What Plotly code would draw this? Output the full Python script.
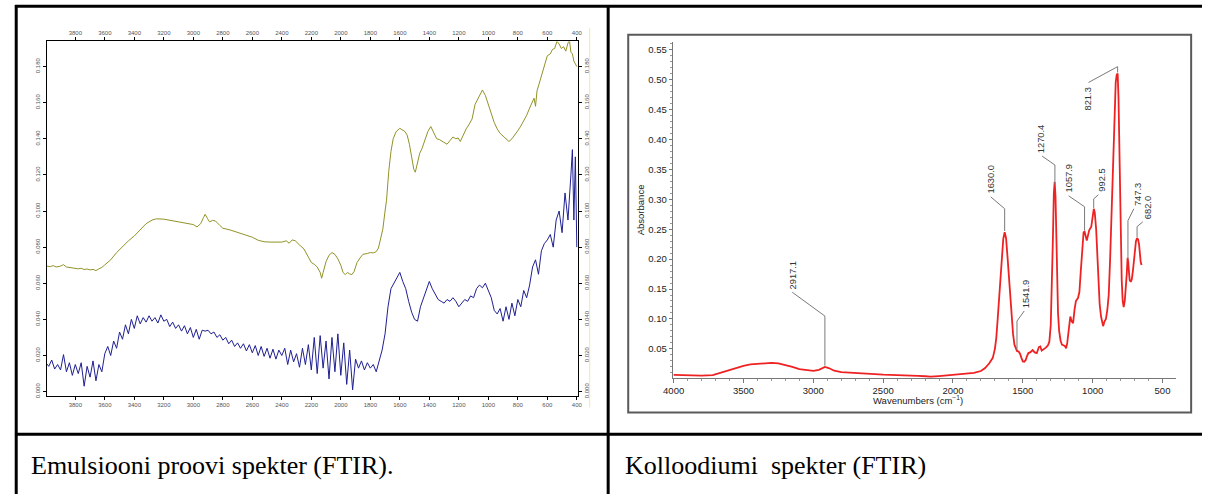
import numpy as np
import plotly.graph_objects as go

# ---------------- data ----------------
# Left panel: emulsion sample FTIR (two traces)
olive_wn = [4000, 3970, 3950, 3930, 3900, 3880, 3860, 3840, 3820, 3800, 3780, 3760, 3740, 3720, 3700,
            3680, 3660, 3640, 3620, 3600, 3560, 3520, 3480, 3440, 3400, 3360, 3320, 3280, 3250, 3200,
            3150, 3100, 3050, 3000, 2975, 2950, 2930, 2920, 2905, 2890, 2870, 2850, 2820, 2800, 2750,
            2700, 2650, 2600, 2560, 2520, 2480, 2440, 2400, 2370, 2350, 2330, 2310, 2280, 2250, 2220,
            2200, 2180, 2160, 2140, 2130, 2120, 2100, 2080, 2060, 2040, 2020, 2000, 1985, 1970, 1955,
            1940, 1925, 1910, 1890, 1870, 1850, 1820, 1800, 1780, 1760, 1745, 1730, 1715, 1700, 1690,
            1675, 1660, 1645, 1625, 1600, 1580, 1565, 1550, 1535, 1520, 1505, 1495, 1480, 1465, 1450,
            1430, 1410, 1390, 1370, 1350, 1330, 1300, 1280, 1260, 1240, 1220, 1205, 1190, 1170, 1150,
            1130, 1110, 1090, 1070, 1050, 1040, 1020, 1000, 980, 960, 940, 920, 900, 880, 860,
            840, 820, 800, 780, 760, 740, 720, 700, 690, 680, 670, 650, 630, 610, 600,
            580, 565, 550, 535, 520, 505, 490, 475, 460, 450, 440, 430, 420, 410, 400]
olive_val = [0.0696, 0.0692, 0.0698, 0.0690, 0.0695, 0.0703, 0.0690, 0.0688, 0.0686, 0.0684, 0.0680, 0.0683, 0.0676, 0.0679, 0.0674,
             0.0677, 0.0670, 0.0680, 0.0688, 0.0702, 0.0730, 0.0770, 0.0805, 0.0835, 0.0862, 0.0895, 0.0930, 0.0950, 0.0957, 0.0955,
             0.0948, 0.0940, 0.0933, 0.0925, 0.0912, 0.0930, 0.0965, 0.0982, 0.0960, 0.0940, 0.0948, 0.0945, 0.0920, 0.0905, 0.0895,
             0.0882, 0.0870, 0.0855, 0.0838, 0.0830, 0.0828, 0.0830, 0.0828, 0.0835, 0.0822, 0.0840, 0.0836, 0.0812, 0.0790, 0.0745,
             0.0715, 0.0705, 0.0690, 0.0660, 0.0628, 0.0660, 0.0720, 0.0755, 0.0770, 0.0760, 0.0735, 0.0700, 0.0660, 0.0648, 0.0660,
             0.0652, 0.0648, 0.0665, 0.0715, 0.0740, 0.0760, 0.0765, 0.0770, 0.0768, 0.0775, 0.0795, 0.0840, 0.0900, 0.1000, 0.1060,
             0.1220, 0.1330, 0.1400, 0.1440, 0.1458, 0.1450, 0.1440, 0.1420, 0.1370, 0.1300, 0.1230, 0.1215, 0.1260, 0.1320, 0.1345,
             0.1390, 0.1440, 0.1468, 0.1430, 0.1400, 0.1395, 0.1380, 0.1370, 0.1390, 0.1410, 0.1400, 0.1405, 0.1385, 0.1420, 0.1455,
             0.1480, 0.1510, 0.1590, 0.1620, 0.1655, 0.1670, 0.1640, 0.1590, 0.1540, 0.1490, 0.1455, 0.1430, 0.1415, 0.1400, 0.1385,
             0.1400, 0.1420, 0.1445, 0.1470, 0.1500, 0.1530, 0.1570, 0.1610, 0.1625, 0.1580, 0.1665, 0.1720, 0.1780, 0.1840, 0.1860,
             0.1870, 0.1895, 0.1900, 0.1940, 0.1925, 0.1900, 0.1910, 0.1885, 0.1930, 0.1945, 0.1880, 0.1870, 0.1830, 0.1810, 0.1800]

blue_wn = [4000, 3980, 3960, 3940, 3920, 3900, 3880, 3860, 3840, 3820, 3800, 3780, 3760, 3740, 3720,
           3700, 3680, 3660, 3640, 3620, 3600, 3580, 3560, 3540, 3520, 3500, 3480, 3460, 3440, 3420,
           3400, 3380, 3360, 3340, 3320, 3300, 3280, 3260, 3240, 3220, 3200, 3180, 3160, 3140, 3120,
           3100, 3080, 3060, 3040, 3020, 3000, 2980, 2960, 2940, 2920, 2900, 2880, 2860, 2840, 2820,
           2800, 2780, 2760, 2740, 2720, 2700, 2680, 2660, 2640, 2620, 2600, 2580, 2560, 2540, 2520,
           2500, 2480, 2460, 2440, 2420, 2400, 2380, 2360, 2340, 2320, 2300, 2280, 2260, 2240, 2220,
           2200, 2180, 2160, 2140, 2120, 2100, 2080, 2060, 2040, 2020, 2000, 1980, 1960, 1940, 1920,
           1900, 1880, 1860, 1840, 1820, 1800, 1780, 1760, 1740, 1720, 1700, 1680, 1660, 1640, 1620,
           1600, 1580, 1560, 1540, 1520, 1500, 1480, 1460, 1440, 1420, 1400, 1380, 1360, 1340, 1320,
           1300, 1280, 1260, 1240, 1220, 1200, 1180, 1160, 1140, 1120, 1100, 1080, 1060, 1040, 1020,
           1000, 980, 960, 940, 920, 900, 880, 860, 840, 820, 800, 780, 760, 740, 720,
           700, 680, 660, 640, 620, 600, 580, 560, 540, 520, 500, 480, 460, 440, 430,
           420, 410, 400]
blue_val = [0.0160, 0.0140, 0.0175, 0.0125, 0.0150, 0.0120, 0.0205, 0.0110, 0.0160, 0.0090, 0.0150, 0.0100, 0.0160, 0.0030, 0.0140,
            0.0080, 0.0170, 0.0060, 0.0150, 0.0110, 0.0210, 0.0250, 0.0200, 0.0280, 0.0240, 0.0330, 0.0290, 0.0370, 0.0320, 0.0400,
            0.0350, 0.0420, 0.0375, 0.0410, 0.0385, 0.0420, 0.0390, 0.0410, 0.0380, 0.0425, 0.0390, 0.0400, 0.0360, 0.0385, 0.0350,
            0.0370, 0.0335, 0.0365, 0.0320, 0.0355, 0.0300, 0.0345, 0.0290, 0.0340, 0.0335, 0.0340, 0.0320, 0.0330, 0.0300, 0.0315,
            0.0285, 0.0300, 0.0265, 0.0285, 0.0250, 0.0270, 0.0240, 0.0265, 0.0225, 0.0260, 0.0215, 0.0255, 0.0200, 0.0250, 0.0195,
            0.0240, 0.0185, 0.0235, 0.0180, 0.0230, 0.0200, 0.0240, 0.0150, 0.0230, 0.0165, 0.0210, 0.0135, 0.0240, 0.0150, 0.0260,
            0.0120, 0.0300, 0.0100, 0.0310, 0.0130, 0.0280, 0.0070, 0.0300, 0.0110, 0.0320, 0.0090, 0.0270, 0.0040, 0.0230, 0.0010,
            0.0180, 0.0130, 0.0170, 0.0120, 0.0160, 0.0130, 0.0150, 0.0110, 0.0170, 0.0230, 0.0320, 0.0470, 0.0570, 0.0600, 0.0630,
            0.0660, 0.0610, 0.0570, 0.0500, 0.0440, 0.0400, 0.0390, 0.0470, 0.0520, 0.0560, 0.0610, 0.0570, 0.0540, 0.0510, 0.0500,
            0.0490, 0.0510, 0.0500, 0.0520, 0.0500, 0.0470, 0.0490, 0.0510, 0.0500, 0.0530, 0.0520, 0.0570, 0.0590, 0.0575, 0.0600,
            0.0560, 0.0520, 0.0450, 0.0430, 0.0460, 0.0390, 0.0470, 0.0400, 0.0490, 0.0420, 0.0510, 0.0470, 0.0560, 0.0520, 0.0590,
            0.0690, 0.0730, 0.0650, 0.0780, 0.0820, 0.0840, 0.0870, 0.0800, 0.0950, 0.1000, 0.0880, 0.1100, 0.0950, 0.1200, 0.1340,
            0.0950, 0.1300, 0.0800]

# Right panel: collodion FTIR
red_wn = [4000, 3900, 3800, 3720, 3650, 3600, 3550, 3500, 3450, 3400, 3350, 3300, 3250, 3200, 3150,
          3100, 3050, 3000, 2960, 2930, 2917, 2890, 2850, 2800, 2750, 2650, 2500, 2400, 2300, 2250,
          2200, 2160, 2100, 2000, 1900, 1850, 1800, 1770, 1740, 1715, 1700, 1690, 1680, 1670, 1660,
          1650, 1640, 1630, 1620, 1610, 1600, 1590, 1580, 1570, 1560, 1550, 1542, 1530, 1520, 1510,
          1500, 1490, 1480, 1470, 1460, 1445, 1430, 1415, 1400, 1385, 1375, 1365, 1350, 1335, 1320,
          1310, 1300, 1292, 1285, 1278, 1272, 1266, 1260, 1254, 1248, 1240, 1230, 1220, 1210, 1200,
          1190, 1182, 1175, 1165, 1160, 1150, 1140, 1130, 1120, 1105, 1095, 1085, 1075, 1065, 1058,
          1050, 1042, 1035, 1025, 1010, 1000, 992, 985, 975, 965, 958, 950, 940, 930, 925,
          915, 905, 895, 885, 875, 865, 855, 845, 835, 828, 821, 815, 808, 800, 792,
          785, 778, 770, 762, 756, 750, 745, 740, 735, 728, 720, 712, 705, 698, 690,
          682, 675, 668, 662, 656, 650]
red_val = [0.0066, 0.0060, 0.0052, 0.0062, 0.0110, 0.0150, 0.0185, 0.0216, 0.0240, 0.0252, 0.0264, 0.0266, 0.0258, 0.0235, 0.0200,
           0.0160, 0.0140, 0.0132, 0.0150, 0.0185, 0.0199, 0.0180, 0.0135, 0.0110, 0.0100, 0.0090, 0.0070, 0.0066, 0.0062, 0.0050,
           0.0042, 0.0034, 0.0045, 0.0065, 0.0080, 0.0100, 0.0130, 0.0180, 0.0260, 0.0350, 0.0500, 0.0680, 0.1000, 0.1340, 0.1750,
           0.2100, 0.2340, 0.2450, 0.2350, 0.2050, 0.1700, 0.1350, 0.1050, 0.0750, 0.0570, 0.0490, 0.0465, 0.0455, 0.0420, 0.0350,
           0.0290, 0.0285, 0.0310, 0.0380, 0.0430, 0.0445, 0.0480, 0.0440, 0.0430, 0.0530, 0.0540, 0.0470, 0.0490, 0.0520, 0.0560,
           0.0620, 0.0900, 0.1500, 0.2300, 0.3100, 0.3290, 0.3050, 0.2400, 0.1600, 0.1100, 0.0800, 0.0640, 0.0570, 0.0560, 0.0550,
           0.0510, 0.0600, 0.0740, 0.0990, 0.1040, 0.0960, 0.0930, 0.1150, 0.1300, 0.1350, 0.1450, 0.1800, 0.2200, 0.2450, 0.2460,
           0.2380, 0.2310, 0.2380, 0.2480, 0.2540, 0.2700, 0.2840, 0.2780, 0.2500, 0.2000, 0.1500, 0.1250, 0.1040, 0.0900, 0.0880,
           0.0960, 0.1000, 0.1150, 0.1400, 0.2000, 0.2800, 0.3700, 0.4500, 0.4950, 0.5080, 0.5100, 0.4700, 0.3600, 0.2400, 0.1650,
           0.1300, 0.1200, 0.1300, 0.1500, 0.1750, 0.2020, 0.1950, 0.1780, 0.1650, 0.1620, 0.1660, 0.1800, 0.2000, 0.2180, 0.2300,
           0.2350, 0.2330, 0.2250, 0.2050, 0.1950, 0.1900]

left_xticks = [3800, 3600, 3400, 3200, 3000, 2800, 2600, 2400, 2200, 2000, 1800, 1600, 1400, 1200, 1000, 800, 600, 400]
left_yticks = [0.000, 0.020, 0.040, 0.060, 0.080, 0.100, 0.120, 0.140, 0.160, 0.180]
right_xticks = [4000, 3500, 3000, 2500, 2000, 1500, 1000, 500]
right_yticks = [0.05, 0.10, 0.15, 0.20, 0.25, 0.30, 0.35, 0.40, 0.45, 0.50, 0.55]

peak_labels = ["2917.1", "1630.0", "1541.9", "1270.4", "1057.9", "992.5", "821.3", "747.3", "682.0"]
peak_wn = [2917.1, 1630.0, 1541.9, 1270.4, 1057.9, 992.5, 821.3, 747.3, 682.0]

captions = ["Emulsiooni proovi spekter (FTIR).", "Kolloodiumi\u00a0 spekter (FTIR)"]

# ---------------- layout helpers (pixel positions) ----------------
W, H = 1207, 497


def fx(p):
    return p / W


def fy(p):
    return 1 - p / H


# leader-line geometry for peak labels (in data units of the right panel)
bend_val = [0.1048, 0.2842, 0.0965, 0.3573, 0.2875, 0.3007, 0.5217, 0.2643, 0.2543]
lead_wn = [3151, 1730, 1490, 1362, 1172, 959, 1030, 705, 641]
lead_val = [0.1447, 0.3041, 0.1133, 0.3722, 0.3058, 0.3075, 0.4952, 0.2842, 0.2623]
text_dx = [1, 0, 2, -1, 0, 4, 0, 4, 6]
text_below = [False, False, False, False, False, False, True, False, False]

fig = go.Figure()
fig.add_trace(go.Scatter(x=olive_wn, y=olive_val, mode="lines", xaxis="x", yaxis="y",
                         line=dict(color="#929228", width=1), hoverinfo="skip", showlegend=False))
fig.add_trace(go.Scatter(x=blue_wn, y=blue_val, mode="lines", xaxis="x", yaxis="y",
                         line=dict(color="#1f1f92", width=1), hoverinfo="skip", showlegend=False))
# transparent copy so the mirrored (top / right) axes of the left panel get drawn
fig.add_trace(go.Scatter(x=olive_wn, y=olive_val, mode="lines", xaxis="x2", yaxis="y2", opacity=0,
                         line=dict(color="#929228", width=1), hoverinfo="skip", showlegend=False))
fig.add_trace(go.Scatter(x=red_wn, y=red_val, mode="lines", xaxis="x3", yaxis="y3",
                         line=dict(color="#ee2222", width=1.8), hoverinfo="skip", showlegend=False))

small = dict(family="Liberation Sans, Arial, sans-serif", size=6, color="#555555")
left_x_common = dict(range=[3995, 393], tickvals=left_xticks, ticks="outside", ticklen=3,
                     tickcolor="black", showline=True, linecolor="black", linewidth=1,
                     showgrid=False, zeroline=False, tickfont=small)
left_y_common = dict(range=[-0.0022, 0.1939], tickvals=left_yticks, tickformat=".3f", tickangle=-90,
                     ticks="outside", ticklen=3, tickcolor="black", showline=True, linecolor="black",
                     linewidth=1, showgrid=False, zeroline=False, tickfont=small)

rfont = dict(family="Liberation Sans, Arial, sans-serif", size=9.5, color="#222222")

fig.update_layout(
    width=W, height=H, margin=dict(l=0, r=0, t=0, b=0),
    paper_bgcolor="white", plot_bgcolor="white", showlegend=False,
    xaxis=dict(domain=[fx(37), fx(575)], anchor="y", side="bottom", **left_x_common),
    xaxis2=dict(overlaying="x", anchor="y2", side="top", **left_x_common),
    yaxis=dict(domain=[fy(398), fy(41.7)], anchor="x", side="left", **left_y_common),
    yaxis2=dict(overlaying="y", anchor="x2", side="right", **left_y_common),
    xaxis3=dict(domain=[fx(671), fx(1181)], anchor="y3", range=[4007, 401], tickvals=right_xticks,
                ticks="outside", ticklen=4, tickcolor="#777777", showline=True, linecolor="#777777",
                linewidth=1, showgrid=False, zeroline=False, tickfont=rfont,
                minor=dict(ticks="outside", ticklen=2, dtick=100, tickcolor="#999999")),
    yaxis3=dict(domain=[fy(380), fy(42)], anchor="x3", range=[0.0018, 0.5633], tickvals=right_yticks,
                tickformat=".2f", ticks="outside", ticklen=3, tickcolor="#777777", showline=True,
                linecolor="#777777", linewidth=1, showgrid=False, zeroline=False, tickfont=rfont,
                minor=dict(ticks="outside", ticklen=2, dtick=0.01, tickcolor="#999999")),
)

shapes = []
# table grid
line_black = dict(color="black", width=3)
shapes.append(dict(type="line", xref="paper", yref="paper", x0=fx(5), x1=1, y0=fy(6.3), y1=fy(6.3), line=line_black))
shapes.append(dict(type="line", xref="paper", yref="paper", x0=fx(6.3), x1=fx(6.3), y0=fy(5), y1=0, line=line_black))
shapes.append(dict(type="line", xref="paper", yref="paper", x0=fx(605.7), x1=fx(605.7), y0=fy(5), y1=0, line=line_black))
shapes.append(dict(type="line", xref="paper", yref="paper", x0=fx(5), x1=1, y0=fy(437), y1=fy(437), line=line_black))
# faint beige edge line right of left chart
shapes.append(dict(type="line", xref="paper", yref="paper", x0=fx(587), x1=fx(587), y0=fy(28), y1=fy(410),
                   line=dict(color="#f3e4b6", width=1)))
# right chart frame
shapes.append(dict(type="rect", xref="paper", yref="paper", x0=fx(626), x1=fx(1196), y0=fy(415), y1=fy(35),
                   line=dict(color="#5a5a5a", width=2), layer="below"))

# peak leader lines
peak_y = np.interp(peak_wn, red_wn[::-1], red_val[::-1])
annotations = []
for lab, wn, yv, bv, lw, lv, dx, below in zip(peak_labels, peak_wn, peak_y, bend_val, lead_wn, lead_val,
                                             text_dx, text_below):
    shapes.append(dict(type="path", xref="x3", yref="y3",
                       path=f"M {wn},{yv + 0.002} L {wn},{bv} L {lw},{lv}",
                       line=dict(color="#7a7a7a", width=1)))
    annotations.append(dict(x=lw, y=lv, xref="x3", yref="y3", text=lab, showarrow=False, textangle=-90,
                            xanchor="center", yanchor="top" if below else "bottom",
                            xshift=dx, yshift=-3 if below else 1,
                            font=dict(family="Liberation Sans, Arial, sans-serif", size=9.3, color="#333333")))

# axis titles of right chart
annotations.append(dict(x=fx(638.5), y=fy(211), xref="paper", yref="paper", text="Absorbance", showarrow=False,
                        textangle=-90, xanchor="center", yanchor="middle", font=rfont))
annotations.append(dict(x=fx(919), y=fy(402), xref="paper", yref="paper", text="Wavenumbers (cm<sup>\u22121</sup>)",
                        showarrow=False, xanchor="center", yanchor="middle", font=rfont))
# captions
capfont = dict(family="Liberation Serif, Times New Roman, serif", size=26, color="black")
annotations.append(dict(x=fx(19), y=fy(468), xref="paper", yref="paper", text=captions[0], showarrow=False,
                        xanchor="left", yanchor="middle", font=capfont))
annotations.append(dict(x=fx(621), y=fy(468), xref="paper", yref="paper", text=captions[1], showarrow=False,
                        xanchor="left", yanchor="middle", font=capfont))

fig.update_layout(shapes=shapes, annotations=annotations)
fig.write_html("out.html", config={"displayModeBar": False},
               post_script="document.body.style.margin='0';document.body.style.overflow='hidden';")
